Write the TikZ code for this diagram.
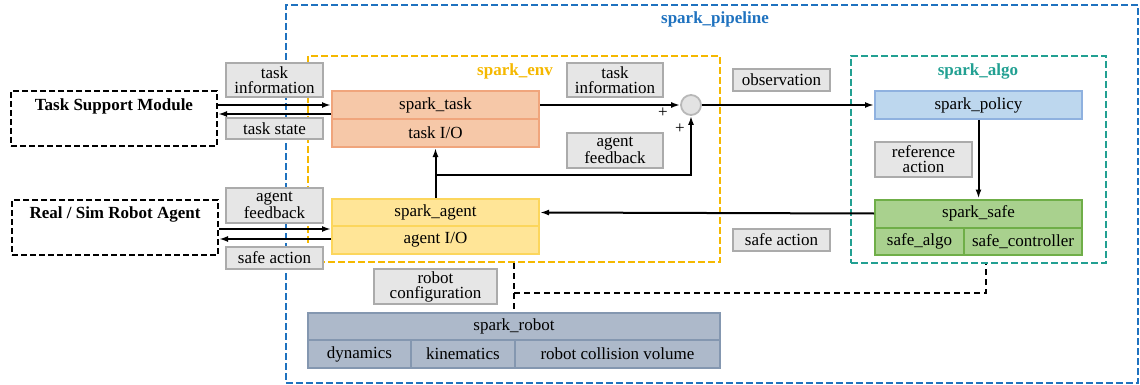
\documentclass[tikz,border=0pt]{standalone}
\usepackage{fontspec}
\setmainfont{Liberation Serif}
\usetikzlibrary{arrows.meta}
\definecolor{pipeblue}{HTML}{1F72BF}
\definecolor{envyel}{HTML}{F5B800}
\definecolor{algoteal}{HTML}{22A092}
\definecolor{taskfill}{HTML}{F6C8A8}
\definecolor{taskbord}{HTML}{F0A57C}
\definecolor{agentfill}{HTML}{FFE597}
\definecolor{agentbord}{HTML}{FCD65C}
\definecolor{polfill}{HTML}{BDD7EE}
\definecolor{polbord}{HTML}{8FB1DF}
\definecolor{safefill}{HTML}{A9D18E}
\definecolor{safebord}{HTML}{6FAE48}
\definecolor{robfill}{HTML}{ADB9CA}
\definecolor{robbord}{HTML}{8497B0}
\definecolor{lblfill}{HTML}{E6E6E6}
\definecolor{lblbord}{HTML}{ABABAB}
\definecolor{sumfill}{HTML}{E3E3E3}
\definecolor{sumbord}{HTML}{B8B8B8}
\tikzset{
  txt/.style={font=\fontsize{17}{15}\selectfont, inner sep=0pt, align=center},
  lbl/.style={txt, draw=lblbord, fill=lblfill, line width=2pt},
  cell/.style={txt, line width=2pt},
  taskcell/.style={cell, draw=taskbord, fill=taskfill},
  agentcell/.style={cell, draw=agentbord, fill=agentfill},
  polcell/.style={cell, draw=polbord, fill=polfill},
  safecell/.style={cell, draw=safebord, fill=safefill},
  robcell/.style={cell, draw=robbord, fill=robfill},
  extbox/.style={draw=black, line width=2pt, dash pattern=on 6pt off 3pt, inner sep=0pt},
  container/.style={line width=2.5pt, dash pattern=on 7pt off 3pt, inner sep=0pt},
  arr/.style={line width=2pt, -{Latex[length=9pt,width=6pt]}},
  dline/.style={line width=2pt, dash pattern=on 6pt off 4pt},
  title/.style={font=\fontsize{17}{17}\selectfont\bfseries, inner sep=0pt}
}
\begin{document}
\begin{tikzpicture}[x=1pt,y=-1pt]
\useasboundingbox (0,0) rectangle (1140,385);
% containers
\node[container, draw=pipeblue, minimum width=852pt, minimum height=378pt] (pipe) at (712,194) {};
\node[container, draw=envyel, minimum width=412pt, minimum height=206pt] (env) at (514,159) {};
\node[container, draw=algoteal, minimum width=255pt, minimum height=207pt] (algo) at (978.5,159.5) {};
\node[title, text=pipeblue] (pipet) at (715,19) {spark\_pipeline};
\node[title, text=envyel] (envt) at (515,71) {spark\_env};
\node[title, text=algoteal] (algot) at (978,71) {spark\_algo};
% external boxes
\node[extbox, minimum width=206pt, minimum height=55pt] (tsm) at (114,118.5) {};
\node[title] (tsmt) at (114,106) {Task Support Module};
\node[extbox, minimum width=206pt, minimum height=55pt] (rsa) at (115,227.5) {};
\node[title] (rsat) at (115,214) {Real / Sim Robot Agent};
% spark_task
\node[taskcell, minimum width=207pt, minimum height=28pt] (tasktop) at (435.5,105) {spark\_task};
\node[taskcell, minimum width=207pt, minimum height=28pt] (taskio) at (435.5,133) {task I/O};
% spark_agent
\node[agentcell, minimum width=207pt, minimum height=27pt] (agenttop) at (435.5,212.5) {spark\_agent};
\node[agentcell, minimum width=207pt, minimum height=28pt] (agentio) at (435.5,240) {agent I/O};
% spark_policy / safe
\node[polcell, minimum width=207pt, minimum height=28pt] (policy) at (978.5,105) {spark\_policy};
\node[safecell, minimum width=207pt, minimum height=28pt] (safetop) at (978.5,213.5) {spark\_safe};
\node[safecell, minimum width=89pt, minimum height=27pt] (safealgo) at (919.5,241.5) {safe\_algo};
\node[safecell, minimum width=118pt, minimum height=27pt] (safectrl) at (1023,241.5) {safe\_controller};
% spark_robot
\node[robcell, minimum width=412pt, minimum height=27pt] (robtop) at (514,326.5) {spark\_robot};
\node[robcell, minimum width=103pt, minimum height=28pt] (dyn) at (359.5,354) {dynamics};
\node[robcell, minimum width=104pt, minimum height=28pt] (kin) at (463,354) {kinematics};
\node[robcell, minimum width=205pt, minimum height=28pt] (coll) at (617.5,354) {robot collision volume};
% sum
\node[circle, draw=sumbord, fill=sumfill, line width=1.8pt, minimum size=20pt, inner sep=0pt] (sum) at (691,105) {};
\node[txt] (plusa) at (663,113) {+};
\node[txt] (plusb) at (680,129) {+};
% labels
\node[lbl, minimum width=97pt, minimum height=34pt] (ti1) at (274.5,80) {task\\information};
\node[lbl, minimum width=97pt, minimum height=21pt] (ts) at (274.5,128.5) {task state};
\node[lbl, minimum width=97pt, minimum height=35pt] (af1) at (274.5,205.5) {agent\\feedback};
\node[lbl, minimum width=97pt, minimum height=22pt] (sa1) at (274.5,258) {safe action};
\node[lbl, minimum width=96pt, minimum height=34pt] (ti2) at (615,80) {task\\information};
\node[lbl, minimum width=96pt, minimum height=35pt] (af2) at (615,150.5) {agent\\feedback};
\node[lbl, minimum width=97pt, minimum height=22pt] (obs) at (781.5,80) {observation};
\node[lbl, minimum width=97pt, minimum height=22pt] (sa2) at (781.5,240) {safe action};
\node[lbl, minimum width=97pt, minimum height=35pt] (refa) at (923.5,159.5) {reference\\action};
\node[lbl, minimum width=123pt, minimum height=35pt] (rc) at (435.5,286.5) {robot\\configuration};
% arrows external
\draw[arr] (tsm.east |- tasktop.west) -- (tasktop.west);
\draw[arr] ([yshift=-9pt]tasktop.west) -- ([yshift=-9pt]tasktop.west -| tsm.east);
\draw[arr] ([yshift=11pt]agentio.west -| rsa.east) -- ([yshift=11pt]agentio.west);
\draw[arr] ([yshift=1pt]agentio.west) -- ([yshift=1pt]agentio.west -| rsa.east);
% internal arrows
\draw[arr] (tasktop.east) -- (sum.west);
\draw[arr] (sum.east) -- (policy.west);
\draw[arr] (policy.south) -- (safetop.north);
\draw[arr] (safetop.west) -- (agenttop.east);
\draw[arr] (agenttop.north) -- (taskio.south);
\coordinate (fbj) at (435.5,175);
\draw[arr] (fbj) -| (sum.south);
% robot configuration dashed
\draw[dline] (env.south) -- (robtop.north);
\coordinate (rcj) at (514,293);
\draw[dline] (rcj) -| ([xshift=7.5pt]algo.south);
\end{tikzpicture}
\end{document}
